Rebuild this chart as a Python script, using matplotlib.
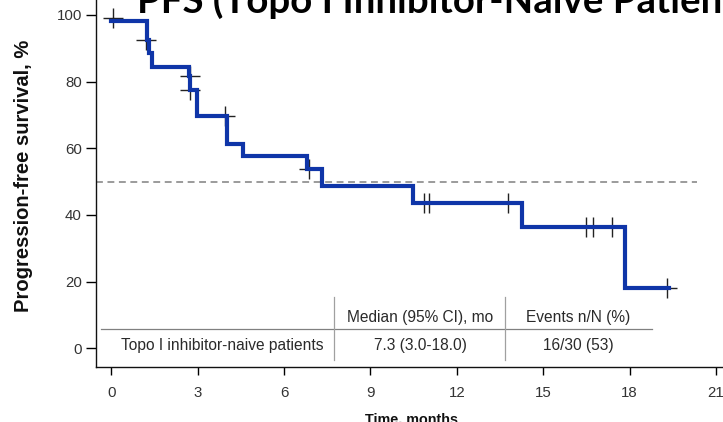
import matplotlib
matplotlib.use("Agg")
import matplotlib.pyplot as plt

# ---------------- data ----------------
step_times = [0, 1.25, 1.32, 1.42, 2.71, 2.73, 2.99, 4.03, 4.59, 6.79, 7.31, 10.47, 14.25, 17.84]
step_surv = [98.3, 92.5, 88.7, 84.5, 81.7, 77.5, 69.8, 61.3, 57.7, 53.7, 48.7, 43.7, 36.5, 18.2]
follow_up_end = 19.35

censor_times = [0.07, 1.21, 2.74, 2.74, 3.95, 6.88, 10.87, 11.03, 13.77, 16.48, 16.74, 17.38, 19.29]
censor_surv = [99.0, 92.5, 81.7, 77.5, 69.8, 53.7, 43.7, 43.7, 43.7, 36.5, 36.5, 36.5, 18.2]

median_level = 50
median_line_end = 20.35

x_ticks = [0, 3, 6, 9, 12, 15, 18, 21]
y_ticks = [0, 20, 40, 60, 80, 100]

title_text = "PFS (Topo I Inhibitor-Naive Patients)"
x_label = "Time, months"
y_label = "Progression-free survival, %"

table_header = ["Median (95% CI), mo", "Events n/N (%)"]
table_row_label = "Topo I inhibitor-naive patients"
table_row_values = ["7.3 (3.0-18.0)", "16/30 (53)"]

# ---------------- style ----------------
plt.rcParams["font.family"] = ["Liberation Sans", "DejaVu Sans"]
W, H = 723, 422
fig = plt.figure(figsize=(W / 100, H / 100), dpi=100)
ax = fig.add_axes([96 / W, (H - 366.7) / H, 1 - 96 / W, 366.7 / H])
ax.set_xlim(-0.528, 21.24)
ax.set_ylim(-5.52, 104.5)

curve_color = "#0f35a8"
ax.step(step_times + [follow_up_end], step_surv + [step_surv[-1]], where="post",
        color=curve_color, lw=3.0, zorder=3, solid_joinstyle="miter")
ax.plot(censor_times, censor_surv, "+", color="#222222", ms=14, mew=1.0, zorder=2)

ax.hlines(median_level, ax.get_xlim()[0], median_line_end, colors="#808080",
          linestyles=(0, (4.5, 3)), lw=1.1, zorder=1)

# table
col_centers = [3.84, 10.72, 16.21]
txt_kw = dict(fontsize=11.2, color="#2a2a2a", ha="center", va="baseline")
for c, s in zip(col_centers[1:], table_header):
    ax.text(c, 8.0, s, **txt_kw)
ax.text(col_centers[0], -0.5, table_row_label, **txt_kw)
for c, s in zip(col_centers[1:], table_row_values):
    ax.text(c, -0.5, s, **txt_kw)
ax.plot([-0.35, 18.77], [5.7, 5.7], color="#808080", lw=0.9, zorder=1)
for xv in [7.75, 13.67]:
    ax.plot([xv, xv], [-3.5, 15.5], color="#a0a0a0", lw=0.9, zorder=1)

# axes
for s in ["top", "right"]:
    ax.spines[s].set_visible(False)
for s in ["left", "bottom"]:
    ax.spines[s].set_linewidth(1.0)
    ax.spines[s].set_color("#111111")
ax.set_xticks(x_ticks)
ax.set_yticks(y_ticks)
ax.tick_params(axis="y", length=7.2, width=1.0, pad=3, labelsize=10.8, labelcolor="#333333")
ax.tick_params(axis="x", length=5.8, width=1.0, pad=8, labelsize=10.8, labelcolor="#333333")

ax.set_ylabel(y_label, fontsize=14.5, fontweight="bold", color="#111111", va="center")
ax.yaxis.set_label_coords((24 - 96) / 627, (366.7 - 176) / 366.7)
ax.set_xlabel(x_label, fontsize=10.4, fontweight="bold", color="#111111")
ax.xaxis.set_label_coords((411.7 - 96) / 627, (H - 413 - 55.3) / 366.7)

# title fitted so that the visible part matches
renderer = fig.canvas.get_renderer()
probe = fig.text(0, 0, "PFS (Topo I Inhibitor-Naive", fontsize=30, fontweight="bold", family="Lato")
w = probe.get_window_extent(renderer).width
probe.remove()
title_size = 30 * 465 / w
fig.text(136.7 / W, 1 - 12.5 / H, title_text, fontsize=title_size, fontweight="bold",
         family="Lato", ha="left", va="baseline", color="#000000")

fig.savefig("out.png", dpi=100)
